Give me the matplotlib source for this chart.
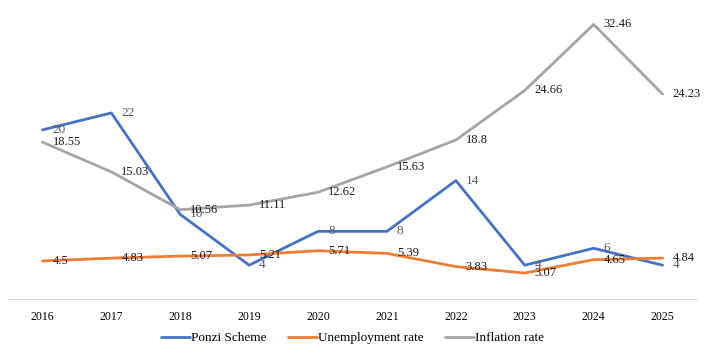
import matplotlib
matplotlib.use('Agg')
import matplotlib.pyplot as plt

years = [2016, 2017, 2018, 2019, 2020, 2021, 2022, 2023, 2024, 2025]
ponzi = [20, 22, 10, 4, 8, 8, 14, 4, 6, 4]
unemployment = [4.5, 4.83, 5.07, 5.21, 5.71, 5.39, 3.83, 3.07, 4.65, 4.84]
inflation = [18.55, 15.03, 10.56, 11.11, 12.62, 15.63, 18.8, 24.66, 32.46, 24.23]

plt.rcParams['font.family'] = ['Liberation Serif', 'DejaVu Serif']

fig = plt.figure(figsize=(7.1, 3.5), dpi=100)
ax = fig.add_axes([8/710, 51/350, 689/710, 296/350])

series = [
    (ponzi, 'Ponzi Scheme', '#4472C4', '#595959', 9.5),
    (unemployment, 'Unemployment rate', '#ED7D31', '#1a1a1a', 9),
    (inflation, 'Inflation rate', '#A5A5A5', '#1a1a1a', 9),
]
for vals, name, col, tcol, fs in series:
    ax.plot(years, vals, color=col, lw=2.0, label=name, solid_capstyle='round')
    for x, y in zip(years, vals):
        ax.annotate(f'{y:g}', (x, y), xytext=(10, 0), textcoords='offset pixels',
                    ha='left', va='center', fontsize=fs, color=tcol)

ax.set_xlim(2015.5, 2025.5)
ax.set_ylim(0, 35)
ax.set_xticks(years)
ax.set_xticklabels([str(y) for y in years], fontsize=8.5)
ax.set_yticks([])
ax.tick_params(axis='x', length=0, pad=9)
for s in ['top', 'right', 'left']:
    ax.spines[s].set_visible(False)
ax.spines['bottom'].set_color('#d9d9d9')

ax.legend(loc='center', bbox_to_anchor=(0.5, -0.132), ncol=3, frameon=False,
          fontsize=9.5, handlelength=2.2, handletextpad=0.1, columnspacing=1.6)

fig.savefig('out.png', dpi=100)
